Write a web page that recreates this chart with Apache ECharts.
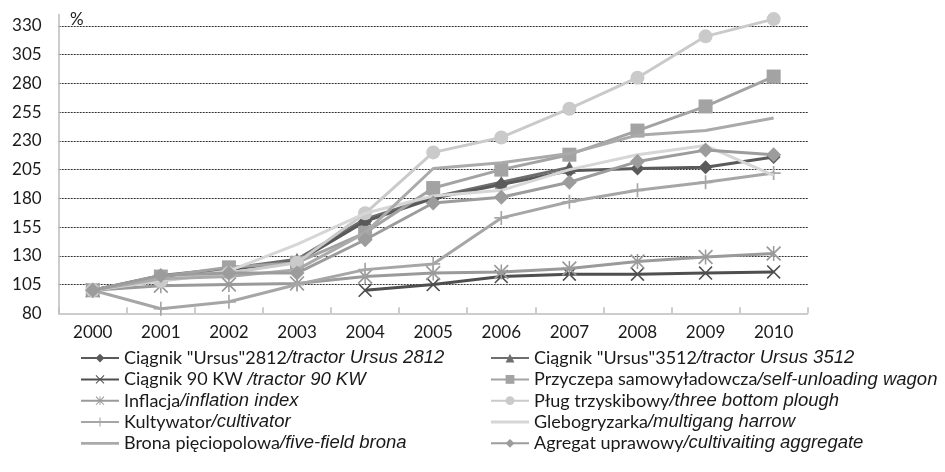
<!DOCTYPE html>
<html>
<head>
<meta charset="utf-8">
<script src="https://cdn.jsdelivr.net/npm/echarts@6/dist/echarts.min.js"></script>
<style>html,body{margin:0;padding:0;background:#fff;}#c{width:945px;height:472px;}</style>
</head>
<body>
<div id="c"></div>
<script>
const years = ['2000','2001','2002','2003','2004','2005','2006','2007','2008','2009','2010'];
const yTicks = [80, 340, 25];
const ursus2812 = [100,112,118,125,160,180,192,204,206,207,216];
const ursus3512 = [100,113,119,127,162,181,194,207,null,null,null];
const tractor90 = [null,null,null,null,100,105,112,114,114,115,116];
const przyczepa = [100,112,120,124,150,189,205,218,239,260,286];
const inflacja = [100,104,105,106,112,115,116,119,125,129,132];
const plug = [100,108,115,124,167,220,233,258,285,321,336];
const kultywator = [100,84,90,105,118,123,163,177,187,194,202];
const glebogryzarka = [100,109,117,140,167,182,187,205,218,226,200];
const brona = [100,110,112,118,150,206,211,219,235,239,250];
const agregat = [100,113,115,115,144,176,181,194,212,222,218];
const namesPl = ['Ciągnik "Ursus"2812','Ciągnik "Ursus"3512','Ciągnik 90 KW ','Przyczepa samowyładowcza','Inflacja','Pług trzyskibowy','Kultywator','Glebogryzarka','Brona pięciopolowa','Agregat uprawowy'];
const namesEn = ['/tractor Ursus 2812','/tractor Ursus 3512','/tractor 90 KW','/self-unloading wagon','/inflation index','/three bottom plough','/cultivator','/multigang harrow','/five-field brona','/cultivaiting aggregate'];
const values = [ursus2812, ursus3512, tractor90, przyczepa, inflacja, plug, kultywator, glebogryzarka, brona, agregat];

const X_PATH = 'path://M0,0.8L0.8,0L5,4.2L9.2,0L10,0.8L5.8,5L10,9.2L9.2,10L5,5.8L0.8,10L0,9.2L4.2,5Z';
const STAR_PATH = 'path://M0,0.8L0.8,0L5,4.2L9.2,0L10,0.8L5.8,5L10,9.2L9.2,10L5,5.8L0.8,10L0,9.2L4.2,5ZM4.5,0H5.5V10H4.5Z';
const PLUS_PATH = 'path://M4.4,0H5.6V4.4H10V5.6H5.6V10H4.4V5.6H0V4.4H4.4Z';
const LINE_ICON = 'path://M0,0H40V3H0Z';
const styles = [
  {color:'#5a5a5a', symbol:'diamond', size:14},
  {color:'#6e6e6e', symbol:'triangle', size:13},
  {color:'#4f4f4f', symbol:X_PATH, size:14},
  {color:'#a3a3a3', symbol:'rect', size:14},
  {color:'#9a9a9a', symbol:STAR_PATH, size:15},
  {color:'#cacaca', symbol:'circle', size:14},
  {color:'#a6a6a6', symbol:PLUS_PATH, size:14},
  {color:'#d6d6d6', symbol:'none', size:0},
  {color:'#aaaaaa', symbol:'none', size:0},
  {color:'#9c9c9c', symbol:'diamond', size:15}
];
const fullNames = namesPl.map((p,i)=>p+namesEn[i]);
const zOrder = [2,1,3,4,5,6,7,8,9,10];

const series = values.map((v,i)=>({
  name: fullNames[i],
  type: 'line',
  data: v,
  z: zOrder[i],
  symbol: styles[i].symbol,
  symbolSize: styles[i].size,
  showSymbol: styles[i].symbol !== 'none',
  lineStyle: {color: styles[i].color, width: 3},
  itemStyle: {color: styles[i].color},
  emphasis: {disabled: true},
  animation: false
}));

const rich = {
  p: {fontFamily: 'Lato', fontSize: 18, lineHeight: 16, color: '#1a1a1a'},
  e: {fontFamily: 'Liberation Sans', fontStyle: 'italic', fontSize: 18.5, lineHeight: 16, color: '#1a1a1a'}
};
function fmt(name){
  const i = fullNames.indexOf(name);
  return '{p|' + namesPl[i] + '}{e|' + namesEn[i] + '}';
}
function legItem(i){
  return styles[i].symbol === 'none' ? {name: fullNames[i], icon: LINE_ICON} : {name: fullNames[i]};
}
const legendCommon = {
  orient: 'vertical', itemWidth: 38, itemHeight: 11, itemGap: 2.3, height: 125,
  formatter: fmt, textStyle: {rich: rich}, selectedMode: false
};

const chart = echarts.init(document.getElementById('c'), null, {renderer: 'canvas'});
chart.setOption({
  backgroundColor: '#fff',
  animation: false,
  grid: {left: 58.7, right: 137.3, top: 14.5, bottom: 158.7, containLabel: false},
  xAxis: {
    type: 'category', data: years, boundaryGap: true,
    axisLine: {lineStyle: {color: '#bdbdbd', width: 1.5}},
    axisTick: {show: true, inside: true, length: 6, alignWithLabel: false, lineStyle: {color: '#bdbdbd', width: 1.5}},
    axisLabel: {fontFamily: 'Lato', fontSize: 17, color: '#1a1a1a', margin: 11}
  },
  yAxis: {
    type: 'value', min: yTicks[0], max: yTicks[1], interval: yTicks[2],
    axisLine: {show: true, lineStyle: {color: '#bdbdbd', width: 1.5}},
    axisTick: {show: false},
    axisLabel: {fontFamily: 'Lato', fontSize: 17, color: '#1a1a1a', margin: 17, showMaxLabel: false},
    splitLine: {show: true, showMinLine: false, showMaxLine: false, lineStyle: {color: '#333', width: 1, type: [2,1]}}
  },
  graphic: [{type: 'text', left: 70, top: 11, style: {text: '%', fontFamily: 'Lato', fontSize: 17, fill: '#1a1a1a'}}],
  legend: [
    Object.assign({left: 75, top: 343.6, data: [0,2,4,6,8].map(legItem)}, legendCommon),
    Object.assign({left: 485, top: 343.6, data: [1,3,5,7,9].map(legItem)}, legendCommon)
  ],
  series: series
});
</script>
</body>
</html>
